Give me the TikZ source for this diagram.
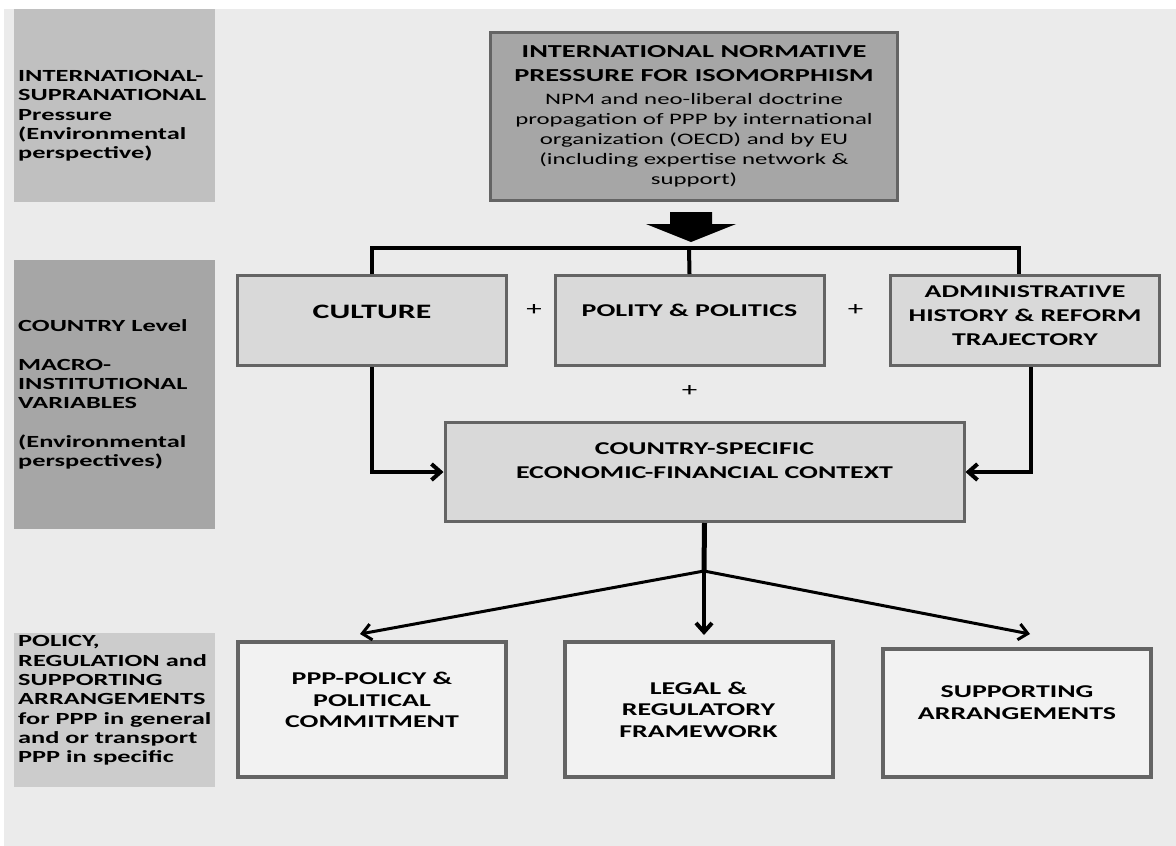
\documentclass[tikz,border=0pt]{standalone}
\usepackage{fontspec}
\setmainfont{Carlito}[FakeStretch=1.55]
\usetikzlibrary{positioning,arrows.meta}

\definecolor{pagegray}{HTML}{EBEBEB}
\definecolor{bandA}{HTML}{C0C0C0}
\definecolor{bandB}{HTML}{A6A6A6}
\definecolor{bandC}{HTML}{CCCCCC}
\definecolor{normfill}{HTML}{A6A6A6}
\definecolor{varfill}{HTML}{D9D9D9}
\definecolor{outfill}{HTML}{F2F2F2}
\definecolor{edgegray}{HTML}{646464}

\tikzset{
  band/.style={rectangle, inner sep=0pt, minimum width=201pt},
  bandlabel/.style={anchor=west, align=left, inner sep=0pt, font=\fontsize{17}{19.3}\selectfont\bfseries},
  normbox/.style={rectangle, draw=edgegray, line width=3pt, fill=normfill, align=center, minimum width=407pt, minimum height=168pt, font=\fontsize{16}{20}\selectfont},
  varbox/.style={rectangle, draw=edgegray, line width=3pt, fill=varfill, align=center, minimum width=269pt, minimum height=90pt, font=\fontsize{18}{24}\selectfont\bfseries},
  outbox/.style={rectangle, draw=edgegray, line width=4pt, fill=outfill, align=center, minimum width=268pt, minimum height=135pt, font=\fontsize{18}{21.5}\selectfont\bfseries},
  lift/.style={text depth=#1},
  plussign/.style={inner sep=0pt, font=\fontsize{20}{20}\selectfont},
  tree/.style={line width=4pt},
  flow/.style={line width=4pt, -{Straight Barb[length=9pt,width=16pt]}},
  fan/.style={line width=3pt, -{Straight Barb[length=9pt,width=16pt]}}
}

\begin{document}
\begin{tikzpicture}[x=1pt, y=-1pt]
  \useasboundingbox (0,0) rectangle (1176,846);
  \fill[white] (0,0) rectangle (1176,846);
  \fill[pagegray] (4,9) rectangle (1176,846);

  % levels on the left
  \node[band, fill=bandA, minimum height=193pt] (bandintl) at (114.5,105.5) {};
  \node[band, fill=bandB, minimum height=269pt] (bandctry) at (114.5,394.5) {};
  \node[band, fill=bandC, minimum height=154pt] (bandpol) at (114.5,710) {};
  \node[bandlabel] (lblintl) at (18,116) {INTERNATIONAL-\\SUPRANATIONAL\\Pressure\\(Environmental\\perspective)};
  \node[bandlabel] (lblctry) at (18,394.5) {COUNTRY Level\\[19.3pt]MACRO-\\INSTITUTIONAL\\VARIABLES\\[19.3pt](Environmental\\perspectives)};
  \node[bandlabel] (lblpol) at (18,700.5) {POLICY,\\REGULATION and\\SUPPORTING\\ARRANGEMENTS\\for PPP in general\\and or transport\\PPP in specific};

  % pressure from outside
  \node[normbox] (norm) at (694,116.5) {{\fontsize{18.3}{20}\selectfont\bfseries INTERNATIONAL NORMATIVE}\\[4pt]{\fontsize{18.3}{20}\selectfont\bfseries PRESSURE FOR ISOMORPHISM}\\[3pt]NPM and neo-liberal doctrine\\propagation of PPP by international\\organization (OECD) and by EU\\(including expertise network \&\\support)};
  \fill (670,212) -- (712,212) -- (712,224) -- (736,224) -- (691,242) -- (646,224) -- (670,224) -- cycle;

  % macro-institutional variables
  \node[varbox, lift=17pt, font=\fontsize{20.5}{24}\selectfont\bfseries] (culture) at (372,320.5) {CULTURE};
  \node[varbox, lift=20pt] (polity) at (689.5,320.5) {POLITY \& POLITICS};
  \node[varbox, lift=9pt] (admin) at (1025,320.5) {ADMINISTRATIVE\\HISTORY \& REFORM\\TRAJECTORY};
  \node[varbox, minimum width=519pt, minimum height=99pt, lift=22pt] (ctx) at (704.5,472) {COUNTRY-SPECIFIC\\ECONOMIC-FINANCIAL CONTEXT};
  \node[plussign] (plusA) at (534,310) {+};
  \node[plussign] (plusB) at (855.6,310) {+};
  \node[plussign, below=18pt of polity] (plusC) {+};

  \coordinate (split) at (689,248);
  \draw[tree] (culture.north) |- (split) -| ([xshift=-6pt]admin.north);
  \draw[tree] (split) -- (polity.north);
  \draw[flow] (culture.south) |- (ctx.west);
  \draw[flow] ([xshift=6pt]admin.south) |- (ctx.east);

  % policy, regulation and support
  \node[outbox, lift=19pt] (ppp) at (372,709.5) {PPP-POLICY \&\\POLITICAL\\COMMITMENT};
  \node[outbox] (legal) at (698.5,709.5) {LEGAL \&\\REGULATORY\\FRAMEWORK};
  \node[outbox, minimum height=128pt, lift=21pt] (support) at (1017,713) {SUPPORTING\\ARRANGEMENTS};

  \coordinate (fork) at (704,571);
  \draw[line width=5pt] (ctx.south) -- (fork);
  \draw[fan] (fork) -- ([xshift=-12pt,yshift=6pt]ppp.north);
  \draw[flow] (fork) -- ([xshift=5.5pt,yshift=5pt]legal.north);
  \draw[fan] (fork) -- ([xshift=13pt,yshift=13pt]support.north);
\end{tikzpicture}
\end{document}
